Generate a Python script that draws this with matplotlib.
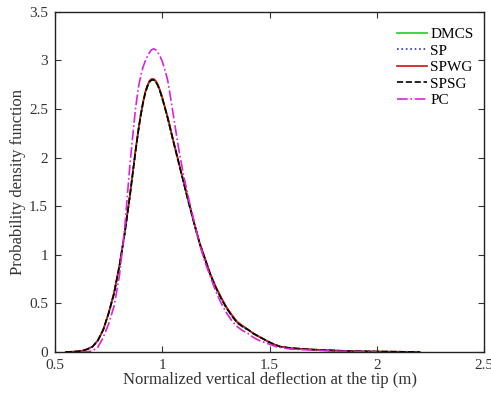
import matplotlib
matplotlib.use("Agg")
import matplotlib.pyplot as plt
from matplotlib.ticker import FormatStrFormatter

plt.rcParams["font.family"] = ["Liberation Serif", "DejaVu Serif"]

# sample deflections (m) and pdf values
x_ref = [0.55, 0.60, 0.625, 0.65, 0.675, 0.70, 0.725, 0.75, 0.775, 0.80, 0.825,
         0.85, 0.875, 0.89, 0.90, 0.91, 0.92, 0.93, 0.94, 0.95, 0.96, 0.97,
         0.98, 0.99, 1.00, 1.025, 1.05, 1.075, 1.10, 1.125, 1.15, 1.175, 1.20,
         1.225, 1.25, 1.275, 1.30, 1.325, 1.35, 1.375, 1.40, 1.425, 1.45, 1.475,
         1.50, 1.525, 1.55, 1.60, 1.70, 1.80, 1.90, 2.00, 2.10, 2.20]

dmcs = [0.0, 0.005, 0.012, 0.028, 0.055, 0.12, 0.23, 0.40, 0.60, 0.88, 1.22,
        1.62, 2.06, 2.30, 2.44, 2.56, 2.66, 2.73, 2.78, 2.80, 2.80, 2.78,
        2.74, 2.68, 2.61, 2.41, 2.18, 1.96, 1.74, 1.52, 1.31, 1.11, 0.95,
        0.79, 0.66, 0.55, 0.45, 0.37, 0.30, 0.26, 0.23, 0.19, 0.16, 0.13,
        0.10, 0.075, 0.055, 0.04, 0.025, 0.015, 0.008, 0.005, 0.003, 0.0]
sp = [0.0, 0.005, 0.012, 0.028, 0.055, 0.12, 0.23, 0.40, 0.60, 0.88, 1.22,
      1.62, 2.06, 2.30, 2.44, 2.56, 2.66, 2.73, 2.78, 2.80, 2.80, 2.78,
      2.74, 2.68, 2.61, 2.41, 2.18, 1.96, 1.74, 1.52, 1.31, 1.11, 0.95,
      0.79, 0.66, 0.55, 0.45, 0.37, 0.30, 0.26, 0.23, 0.19, 0.16, 0.13,
      0.10, 0.075, 0.055, 0.04, 0.025, 0.015, 0.008, 0.005, 0.003, 0.0]
spwg = [0.0, 0.006, 0.013, 0.03, 0.057, 0.12, 0.23, 0.40, 0.61, 0.89, 1.23,
        1.63, 2.07, 2.31, 2.45, 2.57, 2.67, 2.74, 2.79, 2.81, 2.81, 2.79,
        2.75, 2.69, 2.62, 2.42, 2.19, 1.97, 1.75, 1.53, 1.32, 1.12, 0.96,
        0.80, 0.67, 0.56, 0.46, 0.38, 0.31, 0.27, 0.23, 0.19, 0.16, 0.13,
        0.10, 0.076, 0.056, 0.04, 0.026, 0.016, 0.009, 0.005, 0.003, 0.0]
spsg = [0.0, 0.005, 0.012, 0.028, 0.055, 0.12, 0.23, 0.40, 0.60, 0.88, 1.22,
        1.62, 2.06, 2.30, 2.44, 2.56, 2.66, 2.73, 2.78, 2.80, 2.80, 2.78,
        2.74, 2.68, 2.61, 2.41, 2.18, 1.96, 1.74, 1.52, 1.31, 1.11, 0.95,
        0.79, 0.66, 0.55, 0.45, 0.37, 0.30, 0.26, 0.23, 0.19, 0.16, 0.13,
        0.10, 0.075, 0.055, 0.04, 0.025, 0.015, 0.008, 0.005, 0.003, 0.0]

x_pc = [0.62, 0.65, 0.675, 0.70, 0.725, 0.75, 0.775, 0.80, 0.825, 0.85, 0.875,
        0.89, 0.90, 0.91, 0.925, 0.94, 0.95, 0.96, 0.97, 0.98, 0.99, 1.00,
        1.01, 1.025, 1.04, 1.05, 1.075, 1.10, 1.125, 1.15, 1.175, 1.20, 1.225,
        1.25, 1.275, 1.30, 1.325, 1.35, 1.375, 1.40, 1.425, 1.45, 1.475, 1.50,
        1.53, 1.60, 1.70, 1.80, 1.90, 2.00]
pc = [0.0, 0.003, 0.012, 0.05, 0.15, 0.29, 0.47, 0.78, 1.28, 1.95, 2.50,
      2.74, 2.84, 2.93, 3.02, 3.08, 3.11, 3.12, 3.11, 3.08, 3.04, 2.99,
      2.92, 2.80, 2.60, 2.46, 2.11, 1.81, 1.56, 1.33, 1.10, 0.92, 0.77,
      0.62, 0.50, 0.40, 0.32, 0.26, 0.22, 0.19, 0.15, 0.12, 0.10, 0.08,
      0.055, 0.03, 0.02, 0.01, 0.005, 0.002]

fig = plt.figure(figsize=(4.91, 3.96), dpi=100)
ax = fig.add_axes([0.112, 0.111, 0.874, 0.859])

ax.plot(x_ref, dmcs, color="#22cc22", lw=1.2, label="DMCS")
ax.plot(x_ref, sp, color="#3333aa", lw=1.2, ls=":", label="SP")
ax.plot(x_ref, spwg, color="#cc1111", lw=1.2, label="SPWG")
ax.plot(x_ref, spsg, color="black", lw=1.2, ls="--", label="SPSG")
ax.plot(x_pc, pc, color="#dd22dd", lw=1.2, ls="-.", label="PC")

ax.set_xlim(0.5, 2.5)
ax.set_ylim(0, 3.5)
ax.set_xticks([0.5, 1, 1.5, 2, 2.5])
ax.set_yticks([0, 0.5, 1, 1.5, 2, 2.5, 3, 3.5])
ax.xaxis.set_major_formatter(FormatStrFormatter("%g"))
ax.yaxis.set_major_formatter(FormatStrFormatter("%g"))
ax.tick_params(direction="in", top=True, right=True, labelsize=11, length=4,
               colors="#333333", pad=5)
for s in ax.spines.values():
    s.set_linewidth(1.0)
    s.set_color("#222222")

ax.set_xlabel("Normalized vertical deflection at the tip (m)", fontsize=12,
              labelpad=0, color="#333333")
ax.set_ylabel("Probability density function", fontsize=12, labelpad=2,
              color="#333333")

ax.legend(loc="upper right", bbox_to_anchor=(1.0, 0.985), frameon=False,
          fontsize=11, handlelength=2.0, handletextpad=0.2, labelspacing=0.18,
          borderaxespad=0.3)

fig.savefig("out.png", dpi=100)
